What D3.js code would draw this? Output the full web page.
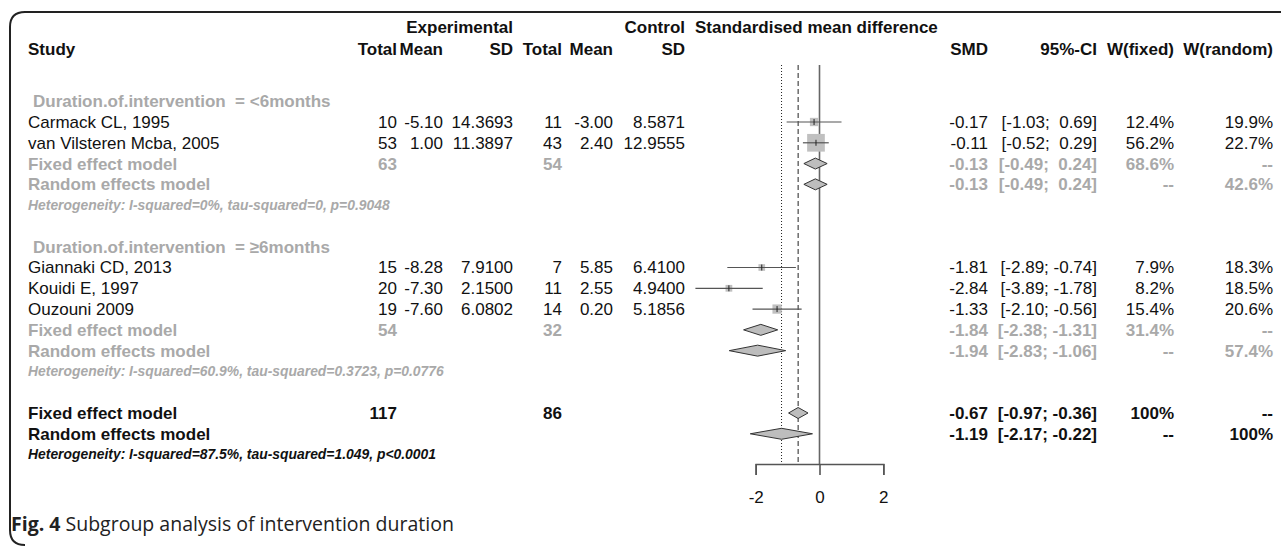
<!DOCTYPE html>
<html><head><meta charset="utf-8">
<script src="https://cdn.jsdelivr.net/npm/d3@7/dist/d3.min.js"></script>
<style>body{margin:0;background:#fff;} svg{display:block;} text{white-space:pre;}</style>
</head><body>
<svg id="chart" width="1281" height="546"></svg>
<script>
// ---------- data ----------
const studies   = ["Carmack CL, 1995", "van Vilsteren Mcba, 2005", "Giannaki CD, 2013", "Kouidi E, 1997", "Ouzouni 2009"];
const studyGroup = [0, 0, 1, 1, 1];
const expTotal  = [10, 53, 15, 20, 19];
const expMean   = [-5.10, 1.00, -8.28, -7.30, -7.60];
const expSD     = [14.3693, 11.3897, 7.9100, 2.1500, 6.0802];
const ctrlTotal = [11, 43, 7, 11, 14];
const ctrlMean  = [-3.00, 2.40, 5.85, 2.55, 0.20];
const ctrlSD    = [8.5871, 12.9555, 6.4100, 4.9400, 5.1856];
const smd       = [-0.17, -0.11, -1.81, -2.84, -1.33];
const ciLow     = [-1.03, -0.52, -2.89, -3.89, -2.10];
const ciHigh    = [0.69, 0.29, -0.74, -1.78, -0.56];
const wFixed    = [12.4, 56.2, 7.9, 8.2, 15.4];
const wRandom   = [19.9, 22.7, 18.3, 18.5, 20.6];

const groupLabels   = ["Duration.of.intervention  = <6months", "Duration.of.intervention  = \u22656months"];
const groupExpTotal = [63, 54];
const groupCtrlTotal= [54, 32];
const groupFixedSMD = [-0.13, -1.84];
const groupFixedLo  = [-0.49, -2.38];
const groupFixedHi  = [0.24, -1.31];
const groupFixedW   = [68.6, 31.4];
const groupRandSMD  = [-0.13, -1.94];
const groupRandLo   = [-0.49, -2.83];
const groupRandHi   = [0.24, -1.06];
const groupRandW    = [42.6, 57.4];
const groupHet      = ["Heterogeneity: I-squared=0%, tau-squared=0, p=0.9048",
                       "Heterogeneity: I-squared=60.9%, tau-squared=0.3723, p=0.0776"];

const overallExpTotal = 117, overallCtrlTotal = 86;
const overallFixed  = [-0.67, -0.97, -0.36];
const overallRandom = [-1.19, -2.17, -0.22];
const overallHet = "Heterogeneity: I-squared=87.5%, tau-squared=1.049, p<0.0001";
const axisTicks = [-2, 0, 2];
const caption = ["Fig. 4", " Subgroup analysis of intervention duration"];

// ---------- layout ----------
const svg = d3.select("#chart");
const FONT = "'Liberation Sans', Arial, Helvetica, sans-serif";
const FS = 17, HFS = 13.9;
const BLACK = "#111", GREY = "#a9a9a9";

const x = d3.scaleLinear().domain([-2, 2]).range([755.7, 883.3]);
const rowY = d3.scaleLinear().domain([1, 15]).range([122, 413]);
const col = {study:28, eT:397, eM:443, eS:513, cT:562, cM:613, cS:685, smd:988, ci:1097, wf:1174, wr:1273};

const f2 = d3.format(".2f"), f4 = d3.format(".4f");
const fm = v => f2(v).replace("\u2212", "-");
const ciTxt = (lo, hi) => "[" + fm(lo) + ";" + (hi < 0 ? " " : "  ") + fm(hi) + "]";
const pct = v => d3.format(".1f")(v) + "%";

function txt(xp, y, s, o = {}) {
  return svg.append("text").attr("x", xp).attr("y", y).attr("dy", "0.35em")
    .attr("font-family", FONT).attr("font-size", o.size || FS)
    .attr("font-weight", o.bold ? "bold" : "normal")
    .attr("font-style", o.italic ? "italic" : "normal")
    .attr("fill", o.fill || BLACK).attr("text-anchor", o.anchor || "start").text(s);
}

// border
svg.append("path").attr("d", "M25,545 Q10,545 10,530 V27 Q10,12 25,12 H1281")
  .attr("fill", "none").attr("stroke", "#222").attr("stroke-width", 2);

// headers
const hy1 = 27, hy2 = 49;
txt(col.eS, hy1, "Experimental", {bold:true, anchor:"end"});
txt(col.cS, hy1, "Control", {bold:true, anchor:"end"});
txt(695, hy1, "Standardised mean difference", {bold:true});
txt(col.study, hy2, "Study", {bold:true});
[["eT","Total"],["eM","Mean"],["eS","SD"],["cT","Total"],["cM","Mean"],["cS","SD"],
 ["smd","SMD"],["ci","95%-CI"],["wf","W(fixed)"],["wr","W(random)"]]
 .forEach(([k, s]) => txt(col[k], hy2, s, {bold:true, anchor:"end"}));

const axisY = 464;
const lineTop = 65;

// reference lines
svg.append("line").attr("x1", x(0)).attr("x2", x(0)).attr("y1", lineTop).attr("y2", axisY)
  .attr("stroke", "#666").attr("stroke-width", 1.6);
svg.append("line").attr("x1", x(overallFixed[0])).attr("x2", x(overallFixed[0])).attr("y1", lineTop).attr("y2", axisY)
  .attr("stroke", "#222").attr("stroke-width", 1).attr("stroke-dasharray", "5,3");
svg.append("line").attr("x1", x(overallRandom[0])).attr("x2", x(overallRandom[0])).attr("y1", lineTop).attr("y2", axisY)
  .attr("stroke", "#222").attr("stroke-width", 1).attr("stroke-dasharray", "1,2");

const sq = d3.scaleSqrt().domain([0, d3.max(wFixed)]).range([0, 17.7]);

function diamond(est, lo, hi, y, h = 5.5) {
  svg.append("path")
    .attr("d", `M${x(lo)},${y} L${x(est)},${y - h} L${x(hi)},${y} L${x(est)},${y + h} Z`)
    .attr("fill", "#bdbdbd").attr("stroke", "#333").attr("stroke-width", 1);
}

let r = 0;
[0, 1].forEach(g => {
  txt(col.study + 5, rowY(r), groupLabels[g], {bold:true, fill:GREY});
  r++;
  studies.forEach((s, i) => {
    if (studyGroup[i] !== g) return;
    const y = rowY(r);
    txt(col.study, y, s);
    txt(col.eT, y, expTotal[i], {anchor:"end"});
    txt(col.eM, y, fm(expMean[i]), {anchor:"end"});
    txt(col.eS, y, f4(expSD[i]), {anchor:"end"});
    txt(col.cT, y, ctrlTotal[i], {anchor:"end"});
    txt(col.cM, y, fm(ctrlMean[i]), {anchor:"end"});
    txt(col.cS, y, f4(ctrlSD[i]), {anchor:"end"});
    txt(col.smd, y, fm(smd[i]), {anchor:"end"});
    txt(col.ci, y, ciTxt(ciLow[i], ciHigh[i]), {anchor:"end"});
    txt(col.wf, y, pct(wFixed[i]), {anchor:"end"});
    txt(col.wr, y, pct(wRandom[i]), {anchor:"end"});
    const side = sq(wFixed[i]);
    svg.append("rect").attr("x", x(smd[i]) - side / 2).attr("y", y - side / 2)
      .attr("width", side).attr("height", side).attr("fill", "#c0c0c0");
    svg.append("line").attr("x1", x(ciLow[i])).attr("x2", x(ciHigh[i])).attr("y1", y).attr("y2", y)
      .attr("stroke", "#555").attr("stroke-width", 1.2);
    svg.append("line").attr("x1", x(smd[i])).attr("x2", x(smd[i])).attr("y1", y - 3).attr("y2", y + 3)
      .attr("stroke", "#222").attr("stroke-width", 1);
    r++;
  });
  let y = rowY(r);
  txt(col.study, y, "Fixed effect model", {bold:true, fill:GREY});
  txt(col.eT, y, groupExpTotal[g], {bold:true, fill:GREY, anchor:"end"});
  txt(col.cT, y, groupCtrlTotal[g], {bold:true, fill:GREY, anchor:"end"});
  txt(col.smd, y, fm(groupFixedSMD[g]), {bold:true, fill:GREY, anchor:"end"});
  txt(col.ci, y, ciTxt(groupFixedLo[g], groupFixedHi[g]), {bold:true, fill:GREY, anchor:"end"});
  txt(col.wf, y, pct(groupFixedW[g]), {bold:true, fill:GREY, anchor:"end"});
  txt(col.wr, y, "--", {bold:true, fill:GREY, anchor:"end"});
  diamond(groupFixedSMD[g], groupFixedLo[g], groupFixedHi[g], y);
  r++;
  y = rowY(r);
  txt(col.study, y, "Random effects model", {bold:true, fill:GREY});
  txt(col.smd, y, fm(groupRandSMD[g]), {bold:true, fill:GREY, anchor:"end"});
  txt(col.ci, y, ciTxt(groupRandLo[g], groupRandHi[g]), {bold:true, fill:GREY, anchor:"end"});
  txt(col.wf, y, "--", {bold:true, fill:GREY, anchor:"end"});
  txt(col.wr, y, pct(groupRandW[g]), {bold:true, fill:GREY, anchor:"end"});
  diamond(groupRandSMD[g], groupRandLo[g], groupRandHi[g], y);
  r++;
  txt(col.study, rowY(r), groupHet[g], {bold:true, italic:true, fill:GREY, size:HFS});
  r += 2;
});

let y = rowY(r);
txt(col.study, y, "Fixed effect model", {bold:true});
txt(col.eT, y, overallExpTotal, {bold:true, anchor:"end"});
txt(col.cT, y, overallCtrlTotal, {bold:true, anchor:"end"});
txt(col.smd, y, fm(overallFixed[0]), {bold:true, anchor:"end"});
txt(col.ci, y, ciTxt(overallFixed[1], overallFixed[2]), {bold:true, anchor:"end"});
txt(col.wf, y, "100%", {bold:true, anchor:"end"});
txt(col.wr, y, "--", {bold:true, anchor:"end"});
diamond(overallFixed[0], overallFixed[1], overallFixed[2], y);
r++;
y = rowY(r);
txt(col.study, y, "Random effects model", {bold:true});
txt(col.smd, y, fm(overallRandom[0]), {bold:true, anchor:"end"});
txt(col.ci, y, ciTxt(overallRandom[1], overallRandom[2]), {bold:true, anchor:"end"});
txt(col.wf, y, "--", {bold:true, anchor:"end"});
txt(col.wr, y, "100%", {bold:true, anchor:"end"});
diamond(overallRandom[0], overallRandom[1], overallRandom[2], y);
r++;
txt(col.study, rowY(r), overallHet, {bold:true, italic:true, size:HFS});

// axis
const axis = d3.axisBottom(x).tickValues(axisTicks).tickSize(11).tickSizeOuter(11).tickPadding(16);
const ag = svg.append("g").attr("transform", `translate(0,${axisY})`).call(axis);
ag.select(".domain").attr("stroke", "#555").attr("stroke-width", 1.6);
ag.selectAll(".tick line").attr("stroke", "#555").attr("stroke-width", 1.6);
ag.selectAll(".tick text").attr("font-family", FONT).attr("font-size", FS).attr("fill", BLACK)
  .text(d => String(d));

// caption
const cap = svg.append("text").attr("x", 11).attr("y", 524).attr("dy", "0.35em")
  .attr("font-family", "'Open Sans', 'Noto Sans', sans-serif").attr("font-size", 19.5).attr("fill", "#222");
cap.append("tspan").attr("font-weight", "bold").text(caption[0]);
cap.append("tspan").text(caption[1]);
</script>
</body></html>
